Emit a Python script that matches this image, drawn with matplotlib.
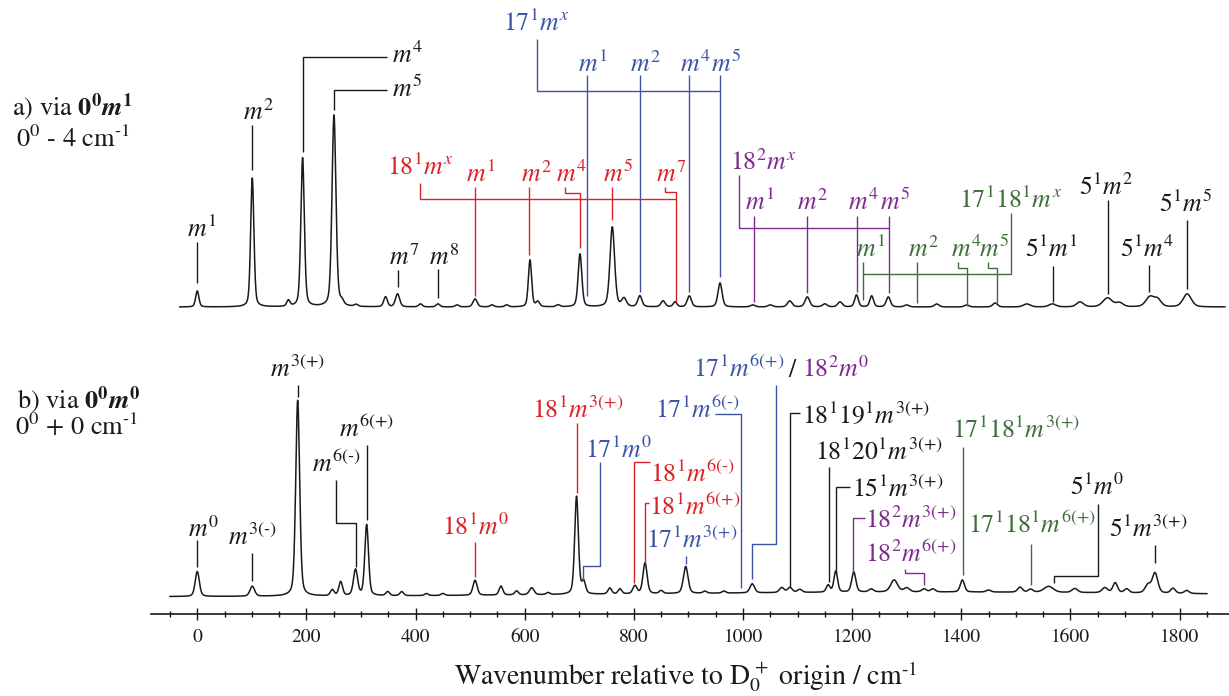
import numpy as np
import matplotlib
matplotlib.use("Agg")
import matplotlib.pyplot as plt

plt.rcParams["font.family"] = ["STIXGeneral", "DejaVu Serif"]
plt.rcParams["mathtext.fontset"] = "stix"

# ---------------------------------------------------------------------------
# Spectrum a) via 0^0 m^1 : band centres (cm-1), heights (arb.), FWHM (cm-1)
peaks_a_pos = [0, 100.8, 167, 193, 250.5, 265, 291, 345, 367, 409, 441, 476,
               509, 540, 567, 609.7, 624, 661, 701.3, 760.5, 782, 811, 853.5,
               875.5, 901.6, 957.9, 1018, 1050, 1085.8, 1117.9, 1150, 1177.8,
               1208, 1235.8, 1266.3, 1300, 1355, 1410, 1462, 1520, 1567,
               1617.6, 1668, 1690, 1745.8, 1760, 1814]
peaks_a_height = [16, 129, 6, 149, 192, 4, 2, 10, 13, 3, 3, 2,
                  8, 2, 2, 47, 5, 2, 53, 80, 8, 11, 6,
                  5, 11, 24, 2, 2, 6, 10, 3, 5,
                  12, 11, 10, 2, 3, 2, 4, 3, 3,
                  5, 9, 4, 10, 7, 13]
peaks_a_width = [7, 7, 7, 7.5, 8.5, 8, 8, 8, 9, 8, 8, 8,
                 9, 8, 8, 7, 8, 8, 8, 10, 10, 9, 9,
                 8, 9, 9, 10, 10, 10, 10, 10, 10,
                 8, 8, 9, 10, 10, 10, 10, 15, 15,
                 15, 20, 15, 18, 15, 18]
range_a = (-32, 1883)

# Spectrum b) via 0^0 m^0
peaks_b_pos = [0, 100.8, 184, 247.4, 262.8, 290, 310.4, 349, 374.6, 420, 450,
               509, 556.5, 585, 612.8, 643, 695, 708, 756, 774.6, 802, 820.5,
               850, 895, 930, 965, 1017, 1071, 1086, 1104, 1156, 1170, 1203,
               1235, 1277, 1300, 1331.8, 1348, 1402, 1450, 1507.6, 1527, 1560,
               1608, 1663, 1682, 1703, 1742, 1755, 1788, 1813, 1350]
peaks_b_height = [25, 10, 196, 6, 14, 26, 71, 4, 4, 2, 2,
                  15, 9, 4, 7, 2, 98, 12, 6, 5, 8, 31,
                  3, 27, 2, 2, 9, 5, 5, 3, 7, 21, 20,
                  3, 12, 4, 3, 3, 12, 2, 5, 3, 6,
                  4, 5, 10, 4, 8, 20, 5, 3, 5]
peaks_b_width = [9, 10, 8.5, 8, 8, 9, 8, 8, 8, 8, 8,
                 9, 8, 8, 10, 8, 8, 8, 8, 8, 9, 9,
                 8, 10, 8, 8, 10, 10, 10, 10, 8, 8, 9,
                 10, 15, 12, 10, 10, 9, 10, 10, 10, 20,
                 12, 12, 10, 10, 12, 12, 10, 10, 1300]
range_b = (-50, 1850)

# Assignments (band positions in cm-1)
a_m_labels = ["m^1", "m^2", "m^4", "m^5", "m^7", "m^8"]
a_m_pos = [0, 100.8, 193, 250.5, 367, 441]
a_5_labels = ["5^1m^1", "5^1m^2", "5^1m^4", "5^1m^5"]
a_5_pos = [1567.5, 1668, 1744, 1814.5]
a_17_labels = ["m^1", "m^2", "m^4", "m^5"]
a_17_pos = [713.6, 811, 901.6, 957.9]
a_18_labels = ["m^1", "m^2", "m^4", "m^5", "m^7"]
a_18_pos = [509, 608.5, 701.5, 759.4, 877]
a_18sq_labels = ["m^1", "m^2", "m^4", "m^5"]
a_18sq_pos = [1020, 1117, 1209.6, 1267.6]
a_1718_labels = ["m^1", "m^2", "m^4", "m^5"]
a_1718_pos = [1219.5, 1319.6, 1411, 1465]

b_m_labels = ["m^0", "m^{3(‐)}", "m^{3(+)}", "m^{6(‐)}", "m^{6(+)}"]
b_m_pos = [0, 100.8, 184, 290, 310.4]
b_18_labels = ["18^1m^0", "18^1m^{3(+)}", "18^1m^{6(‐)}", "18^1m^{6(+)}"]
b_18_pos = [509, 695, 800, 820.5]
b_17_labels = ["17^1m^0", "17^1m^{3(+)}", "17^1m^{6(‐)}", "17^1m^{6(+)}"]
b_17_pos = [707.4, 895, 995.8, 1017]
b_18sq_labels = ["18^2m^0", "18^2m^{3(+)}", "18^2m^{6(+)}"]
b_18sq_pos = [1017, 1202, 1331.7]
b_other_labels = ["18^119^1m^{3(+)}", "18^120^1m^{3(+)}", "15^1m^{3(+)}",
                  "5^1m^0", "5^1m^{3(+)}"]
b_other_pos = [1086, 1157.5, 1170, 1570, 1755]
b_1718_labels = ["17^118^1m^{3(+)}", "17^118^1m^{6(+)}"]
b_1718_pos = [1402.8, 1527]

# ---------------------------------------------------------------------------
BLACK = "#1a1a1a"
RED = "#d8232a"
BLUE = "#3b55a5"
PURPLE = "#7f2b8e"
GREEN = "#3e6f3b"

W, H = 1229, 696
XMIN, XMAX = -84.8, 1890.6
AX_L, AX_R, AX_Y = 151, 1229, 614          # pixel frame of the axis
PPC = (AX_R - AX_L) / (XMAX - XMIN)        # pixels per cm-1
FS = 18.5
LW = 1.0

fig = plt.figure(figsize=(W / 100, H / 100), dpi=100)
ax = fig.add_axes([AX_L / W, (H - AX_Y) / H, (AX_R - AX_L) / W, AX_Y / H])
ax.set_xlim(XMIN, XMAX)
ax.set_ylim(0, AX_Y)


def xp(px):
    """pixel column -> wavenumber"""
    return XMIN + (px - AX_L) / PPC


def yp(py):
    """pixel row -> vertical data coordinate"""
    return AX_Y - py


def spectrum(lo, hi, pos, hgt, wid, eta=0.35):
    x = np.linspace(lo, hi, 5000)
    y = np.zeros_like(x)
    for c, h, w in zip(pos, hgt, wid):
        u = (x - c) / w
        y += h * ((1 - eta) * np.exp(-4 * np.log(2) * u ** 2) + eta / (1 + 4 * u ** 2))
    return x, y


xa, ya = spectrum(*range_a, peaks_a_pos, peaks_a_height, peaks_a_width)
xb, yb = spectrum(*range_b, peaks_b_pos, peaks_b_height, peaks_b_width)
ax.plot(xa, ya + yp(307), color=BLACK, lw=1.1)
ax.plot(xb, yb + yp(597), color=BLACK, lw=1.1)


def seg(xs, ys_px, color):
    ax.plot(xs, [yp(v) for v in ys_px], color=color, lw=LW,
            solid_capstyle="butt", solid_joinstyle="miter")


def txt(x, base_px, s, color, ha="center", dx=0.0, size=FS):
    return ax.text(x + dx / PPC, yp(base_px), "$" + s + "$", color=color, ha=ha,
                   va="baseline", fontsize=size)


def tick(x, s, top, bot, base, color=BLACK, dx=0.0):
    seg([x, x], [top, bot], color)
    txt(x, base, s, color, dx=dx)


def elbow(x, s, off, y0, yk, bot, base, color, tdx, ha="center"):
    """label line that starts off px from the band, steps over and drops"""
    xs = x + off / PPC
    seg([xs, xs, x, x], [y0, yk, yk, bot], color)
    txt(x, base, s, color, ha=ha, dx=tdx)


# ----------------------------- spectrum a ----------------------------------
tick(a_m_pos[0], a_m_labels[0], 242, 283, 237, dx=4)
tick(a_m_pos[1], a_m_labels[1], 125, 170, 120, dx=6)
seg([a_m_pos[2], a_m_pos[2], xp(386.7)], [151.7, 56.7, 56.7], BLACK)
txt(xp(392), 63, a_m_labels[2], BLACK, ha="left")
seg([a_m_pos[3], a_m_pos[3], xp(386.7)], [110, 90, 90], BLACK)
txt(xp(392), 97, a_m_labels[3], BLACK, ha="left")
tick(a_m_pos[4], a_m_labels[4], 270, 286.7, 265, dx=7)
tick(a_m_pos[5], a_m_labels[5], 269, 298, 265, dx=6)

for x, s, top, bot, base, dx in zip(a_5_pos, a_5_labels,
                                    [265.7, 200, 265, 220],
                                    [301.7, 294, 291.7, 289.3],
                                    [256.7, 195, 256.7, 212],
                                    [-1, -1, -2, -1.5]):
    tick(x, s, top, bot, base, dx=dx)

# 17^1 m^x progression
txt(xp(536.7), 30.7, "17^1m^x", BLUE)
seg([xp(536.7), xp(536.7), a_17_pos[-1]], [39.3, 90.7, 90.7], BLUE)
for x, s, bot in zip(a_17_pos, a_17_labels, [296, 291.7, 291.7, 276.7]):
    tick(x, s, 75, bot, 71.7, BLUE, dx=6)

# 18^1 m^x progression
txt(xp(420.8), 175, "18^1m^x", RED)
seg([xp(420), xp(420), a_18_pos[-1]], [182.7, 199.3, 199.3], RED)
tick(a_18_pos[0], a_18_labels[0], 186.7, 296, 181.7, RED, dx=6)
tick(a_18_pos[1], a_18_labels[1], 186.7, 255, 181.7, RED, dx=7)
elbow(a_18_pos[2], a_18_labels[2], -15, 186.7, 192.7, 248.3, 181.7, RED, -9)
tick(a_18_pos[3], a_18_labels[3], 186.7, 220, 181.7, RED, dx=6.5)
elbow(a_18_pos[4], a_18_labels[4], -11, 186.7, 191.7, 301.7, 181.7, RED, -4.5)

# 18^2 m^x progression
txt(xp(730), 170, "18^2m^x", PURPLE, ha="left")
seg([xp(739.3), xp(739.3), a_18sq_pos[-1]], [175, 228.3, 228.3], PURPLE)
for x, s, bot in zip(a_18sq_pos, a_18sq_labels, [301.7, 292.7, 291.7, 292.7]):
    tick(x, s, 216, bot, 210, PURPLE, dx=6)

# 17^1 18^1 m^x progression
txt(xp(1011), 208.3, "17^118^1m^x", GREEN)
seg([xp(1011), xp(1011), a_1718_pos[0]], [213.3, 274, 274], GREEN)
tick(a_1718_pos[0], a_1718_labels[0], 261.7, 300, 256.7, GREEN, dx=8)
tick(a_1718_pos[1], a_1718_labels[1], 261.7, 303.3, 256.7, GREEN, dx=6)
elbow(a_1718_pos[2], a_1718_labels[2], -9, 261.7, 268.3, 306, 256.7, GREEN, -1.3)
elbow(a_1718_pos[3], a_1718_labels[3], -8.4, 261.7, 268.3, 302.7, 256.7, GREEN, -2.7)

# ----------------------------- spectrum b ----------------------------------
tick(b_m_pos[0], b_m_labels[0], 540, 566.7, 536.7, dx=6)
tick(b_m_pos[1], b_m_labels[1], 552.7, 580.7, 545, dx=0)
tick(b_m_pos[2], b_m_labels[2], 385, 396.7, 376.7, dx=0)
elbow(b_m_pos[3], b_m_labels[3], -20, 480, 522.7, 566.7, 471.7, BLACK, -19.5)
tick(b_m_pos[4], b_m_labels[4], 445, 520, 436.7, dx=0)

tick(b_18_pos[0], b_18_labels[0], 541.7, 577.3, 535, RED, dx=0.8)
tick(b_18_pos[1], b_18_labels[1], 423.3, 493.3, 418, RED, dx=1)
seg([b_18_pos[2] + 16 / PPC, b_18_pos[2], b_18_pos[2]], [462.3, 462.3, 583.3], RED)
txt(b_18_pos[2], 481.7, b_18_labels[2], RED, ha="left", dx=16)
seg([b_18_pos[3] + 4.3 / PPC, b_18_pos[3], b_18_pos[3]], [503.3, 503.3, 562.7], RED)
txt(b_18_pos[3], 515, b_18_labels[3], RED, ha="left", dx=4.3)

elbow(b_17_pos[0], b_17_labels[0], 17, 461.7, 566, 580.7, 458, BLUE, 35.7)
tick(b_17_pos[1], b_17_labels[1], 556, 564, 548, BLUE, dx=6.3)
seg([b_17_pos[2] - 25.7 / PPC, b_17_pos[2], b_17_pos[2]], [414, 414, 588.3], BLUE)
txt(b_17_pos[2], 418, b_17_labels[2], BLUE, ha="left", dx=-85.7)

# shared band 17^1 m^6(+) / 18^2 m^0
x = b_17_pos[3]
seg([x + 23.7 / PPC, x + 23.7 / PPC, x, x], [385, 544, 544, 579.3], BLUE)
txt(x, 376.7, b_17_labels[3], BLUE, ha="left", dx=-59)
ax.text(x + (792 - 752.3) / PPC, yp(376.7), "/", color=BLACK, ha="center",
        va="baseline", fontsize=FS)
txt(b_18sq_pos[0], 376.7, b_18sq_labels[0], PURPLE, ha="left", dx=50)

seg([b_18sq_pos[1] + 11.7 / PPC, b_18sq_pos[1], b_18sq_pos[1]],
    [517.7, 517.7, 571.7], PURPLE)
txt(b_18sq_pos[1], 528, b_18sq_labels[1], PURPLE, ha="left", dx=11.7)
elbow(b_18sq_pos[2], b_18sq_labels[2], -19, 569.3, 572.7, 585, 561.7, PURPLE,
      -59, ha="left")

x = b_other_pos[0]
seg([x + 10 / PPC, x, x], [413.3, 413.3, 586.7], BLACK)
txt(x, 423, b_other_labels[0], BLACK, ha="left", dx=11.7)
x = b_other_pos[1]
seg([x, x], [466.7, 581.7], BLACK)
txt(x, 460, b_other_labels[1], BLACK, ha="left", dx=-14)
x = b_other_pos[2]
seg([x + 14.3 / PPC, x, x], [487.3, 487.3, 572.7], BLACK)
txt(x, 496.7, b_other_labels[2], BLACK, ha="left", dx=16)
elbow(b_other_pos[3], b_other_labels[3], 44.3, 504, 576, 583.3, 495, BLACK, 43)
tick(b_other_pos[4], b_other_labels[4], 545, 563.3, 536.7, dx=-7)

x = b_1718_pos[0]
seg([x, x], [446.7, 575], GREEN)
txt(x, 438, b_1718_labels[0], GREEN, ha="left", dx=-10.6)
tick(b_1718_pos[1], b_1718_labels[1], 544, 585, 533, GREEN, dx=1.3)

# ----------------------------- panel captions ------------------------------
def ftxt(px, py, s, size=19):
    fig.text(px / W, (H - py) / H, s, ha="center", va="baseline",
             fontsize=size, color=BLACK)


ftxt(73, 115, r"a) via $\mathbf{0^0}\mathbfit{m}^{\mathbf{1}}$")
ftxt(73, 147, r"$0^0$ - 4 cm$^{‐1}$")
ftxt(79, 408, r"b) via $\mathbf{0^0}\mathbfit{m}^{\mathbf{0}}$")
ftxt(77, 435, r"$0^0$ + 0 cm$^{‐1}$")
ftxt(686, 685, r"Wavenumber relative to $\mathrm{D}_0^{\,+}$ origin / cm$^{‐1}$", size=20)

# ----------------------------- axis ----------------------------------------
for side in ("top", "left", "right"):
    ax.spines[side].set_visible(False)
ax.spines["bottom"].set_linewidth(1.2)
ax.spines["bottom"].set_color(BLACK)
ax.set_yticks([])
ax.set_xticks(np.arange(0, 1801, 200))
ax.set_xticks(np.arange(-50, 1851, 50), minor=True)
ax.tick_params(axis="x", which="major", direction="inout", length=9, width=1.0,
               labelsize=14, pad=6, colors=BLACK)
ax.tick_params(axis="x", which="minor", direction="inout", length=4.6, width=1.0,
               colors=BLACK)
ax.patch.set_alpha(0)

fig.savefig("out.png", dpi=100)
